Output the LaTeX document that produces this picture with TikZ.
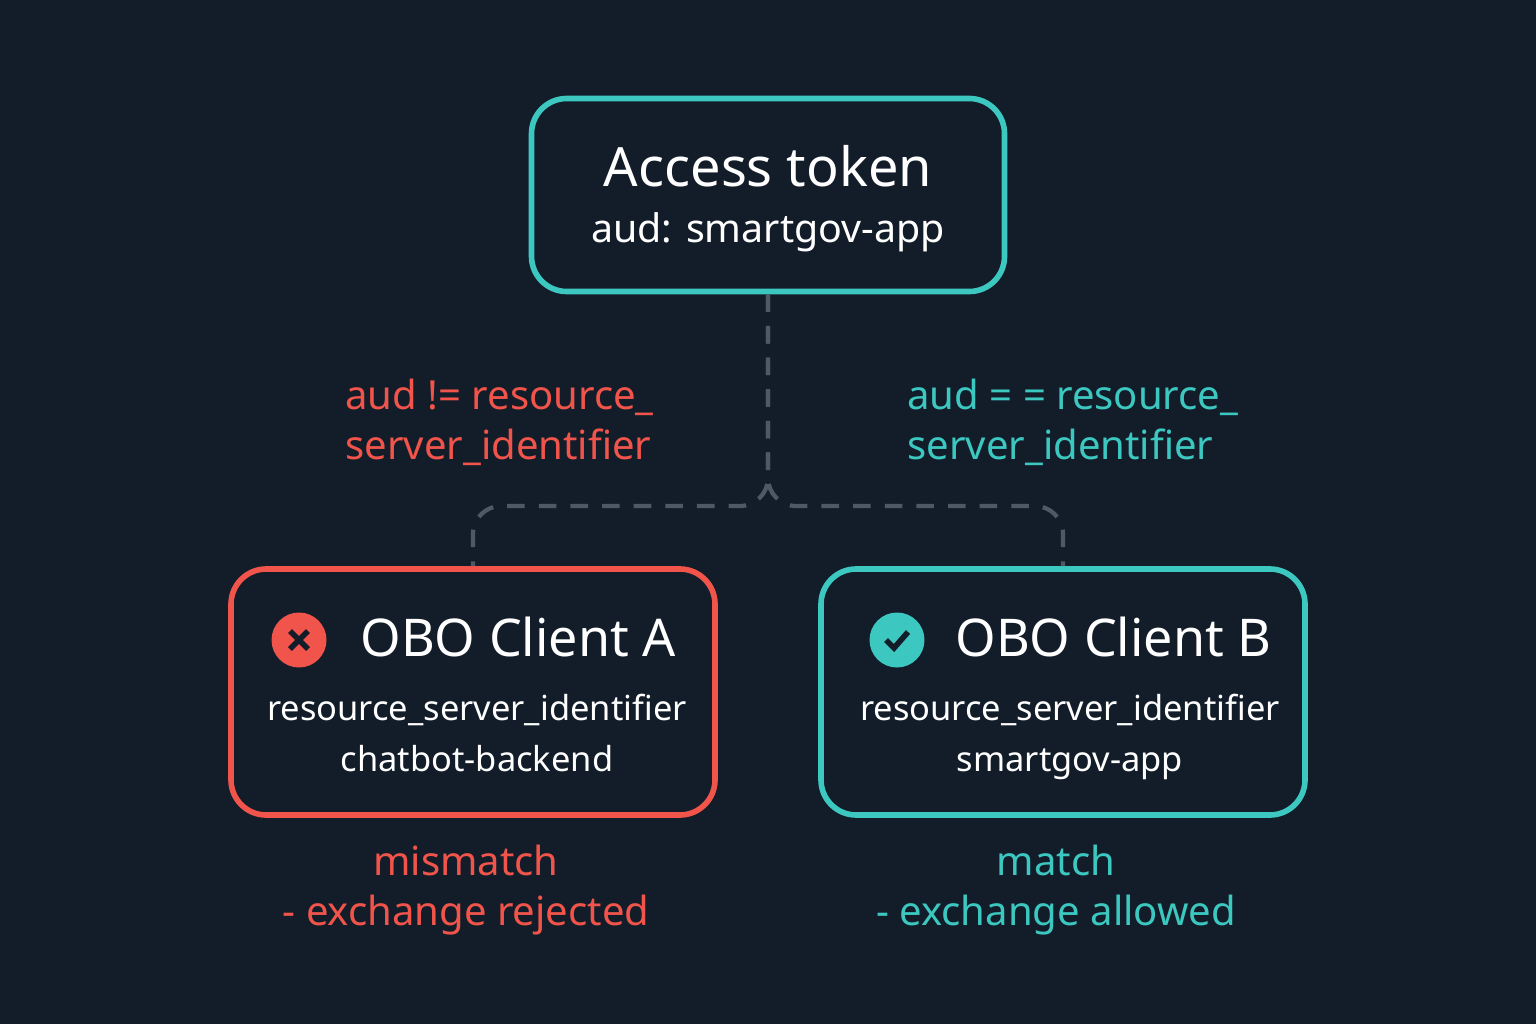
\documentclass[tikz,border=0pt]{standalone}
\usepackage{fontspec}
\setmainfont{Noto Sans}
\usetikzlibrary{positioning,calc}
\definecolor{bgc}{HTML}{121D29}
\definecolor{teal}{HTML}{3CC8C0}
\definecolor{redc}{HTML}{F0544A}
\definecolor{dashc}{HTML}{4E5964}
\tikzset{
  box/.style={draw, line width=1.6pt, rounded corners=10pt, minimum width=4.73cm, minimum height=2.45cm},
  title/.style={text=white, font=\fontsize{14.8}{18}\selectfont},
  info/.style={text=white, font=\fontsize{9.8}{14.5}\selectfont, align=center, anchor=north},
  note/.style={font=\fontsize{11.4}{14.2}\selectfont, align=left},
  link/.style={dashc, line width=1.2pt, dash pattern=on 5pt off 4pt, rounded corners=8pt}
}
\begin{document}
\begin{tikzpicture}
  \fill[bgc] (0,0) rectangle (15.36,10.24);

  % Token
  \node[box, draw=teal, minimum height=1.93cm] (token) at (7.68,8.29) {};
  \node[title, font=\fontsize{15.4}{18}\selectfont] (tokentitle) at (7.68,8.58) {Access token};
  \node[info, font=\fontsize{11.2}{14}\selectfont, anchor=center] (tokenaud) at (7.68,7.92) {aud: smartgov-app};

  % Clients
  \node[box, draw=redc, minimum width=4.84cm, minimum height=2.46cm] (clienta) at (4.73,3.32) {};
  \node[box, draw=teal, minimum width=4.84cm, minimum height=2.46cm] (clientb) at (10.63,3.32) {};

  \node[circle, fill=redc, minimum size=0.55cm, inner sep=0pt] (iconx) at (2.99,3.84) {};
  \draw[bgc, line width=1.6pt] ($(iconx)+(-0.09,-0.09)$) -- ($(iconx)+(0.09,0.09)$)
    ($(iconx)+(-0.09,0.09)$) -- ($(iconx)+(0.09,-0.09)$);
  \node[title, anchor=west] (titlea) at (3.48,3.87) {OBO Client A};
  \node[info] (infoa) at (4.77,3.42) {resource\_server\_identifier\\chatbot-backend};

  \node[circle, fill=teal, minimum size=0.55cm, inner sep=0pt] (iconok) at (8.97,3.84) {};
  \draw[bgc, line width=1.6pt] ($(iconok)+(-0.11,0)$) -- ($(iconok)+(-0.03,-0.08)$) -- ($(iconok)+(0.11,0.08)$);
  \node[title, anchor=west] (titleb) at (9.43,3.87) {OBO Client B};
  \node[info] (infob) at (10.70,3.42) {resource\_server\_identifier\\smartgov-app};

  % Connectors
  \coordinate (split) at (7.68,5.18);
  \draw[link] (token.south) -- (split) -| (clienta.north);
  \draw[link] (token.south) -- (split) -| (clientb.north);

  % Notes
  \node[note, text=redc, anchor=north west] (rule) at (3.33,6.57) {aud != resource\_\\server\_identifier};
  \node[note, text=teal, anchor=north west] (ruleok) at (8.95,6.57) {aud = = resource\_\\server\_identifier};
  \node[note, text=redc, align=center] (resa) at (4.66,1.34) {mismatch\\- exchange rejected};
  \node[note, text=teal, align=center] (resb) at (10.56,1.34) {match\\- exchange allowed};
\end{tikzpicture}
\end{document}
